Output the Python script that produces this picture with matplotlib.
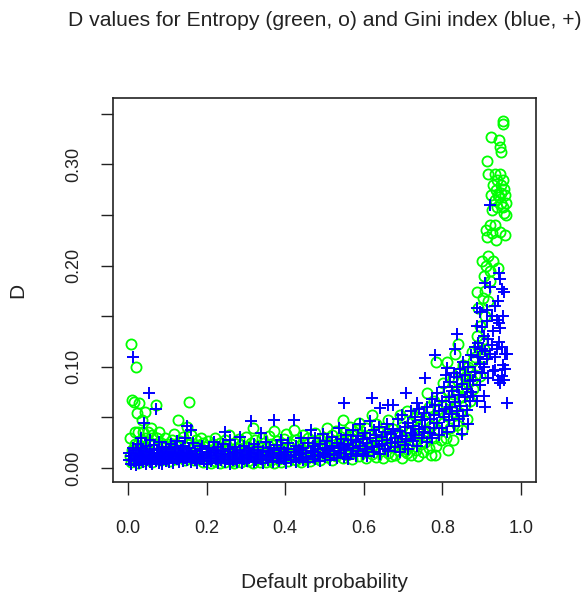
import matplotlib

matplotlib.use("Agg")

import matplotlib.pyplot as plt

plt.rcParams["font.family"] = ["Liberation Sans", "DejaVu Sans"]

# Entropy (green, o)
entropy_x = [
    0.005, 0.005, 0.008, 0.008, 0.011, 0.011, 0.014, 0.014, 0.018, 0.018,
    0.020, 0.020, 0.022, 0.022, 0.026, 0.026, 0.029, 0.029, 0.032, 0.032,
    0.036, 0.036, 0.039, 0.039, 0.043, 0.043, 0.046, 0.046, 0.050, 0.050,
    0.054, 0.054, 0.058, 0.058, 0.062, 0.062, 0.066, 0.066, 0.071, 0.071,
    0.075, 0.075, 0.080, 0.080, 0.085, 0.085, 0.090, 0.090, 0.095, 0.095,
    0.100, 0.100, 0.106, 0.106, 0.112, 0.112, 0.118, 0.118, 0.123, 0.123,
    0.127, 0.127, 0.133, 0.133, 0.139, 0.139, 0.144, 0.144, 0.150, 0.150,
    0.155, 0.155, 0.161, 0.161, 0.167, 0.167, 0.173, 0.173, 0.179, 0.179,
    0.185, 0.185, 0.191, 0.191, 0.197, 0.197, 0.204, 0.204, 0.210, 0.210,
    0.216, 0.216, 0.222, 0.222, 0.228, 0.228, 0.234, 0.234, 0.240, 0.240,
    0.246, 0.246, 0.252, 0.252, 0.258, 0.258, 0.264, 0.264, 0.270, 0.270,
    0.276, 0.276, 0.282, 0.282, 0.288, 0.288, 0.294, 0.294, 0.300, 0.300,
    0.306, 0.306, 0.312, 0.312, 0.317, 0.317, 0.323, 0.323, 0.329, 0.329,
    0.335, 0.335, 0.340, 0.340, 0.346, 0.346, 0.352, 0.352, 0.358, 0.358,
    0.364, 0.364, 0.370, 0.370, 0.372, 0.372, 0.378, 0.378, 0.384, 0.384,
    0.390, 0.390, 0.396, 0.396, 0.402, 0.402, 0.408, 0.408, 0.414, 0.414,
    0.422, 0.422, 0.428, 0.428, 0.434, 0.434, 0.440, 0.440, 0.446, 0.446,
    0.452, 0.452, 0.458, 0.458, 0.464, 0.464, 0.470, 0.470, 0.476, 0.476,
    0.482, 0.482, 0.488, 0.488, 0.494, 0.494, 0.500, 0.500, 0.506, 0.506,
    0.512, 0.512, 0.518, 0.518, 0.524, 0.524, 0.530, 0.530, 0.536, 0.536,
    0.542, 0.542, 0.546, 0.546, 0.552, 0.552, 0.558, 0.558, 0.564, 0.564,
    0.570, 0.570, 0.576, 0.576, 0.582, 0.582, 0.588, 0.588, 0.594, 0.594,
    0.600, 0.600, 0.606, 0.606, 0.612, 0.612, 0.620, 0.620, 0.626, 0.626,
    0.632, 0.632, 0.638, 0.638, 0.644, 0.644, 0.650, 0.650, 0.656, 0.656,
    0.662, 0.662, 0.668, 0.668, 0.674, 0.674, 0.680, 0.680, 0.686, 0.686,
    0.692, 0.692, 0.698, 0.698, 0.704, 0.704, 0.709, 0.709, 0.715, 0.715,
    0.721, 0.721, 0.727, 0.727, 0.733, 0.733, 0.739, 0.739, 0.745, 0.745,
    0.751, 0.751, 0.757, 0.757, 0.760, 0.760, 0.766, 0.766, 0.772, 0.772,
    0.778, 0.778, 0.781, 0.781, 0.784, 0.784, 0.790, 0.790, 0.796, 0.796,
    0.802, 0.802, 0.808, 0.808, 0.811, 0.811, 0.815, 0.815, 0.820, 0.820,
    0.826, 0.826, 0.828, 0.828, 0.832, 0.832, 0.836, 0.836, 0.841, 0.841,
    0.845, 0.845, 0.849, 0.849, 0.853, 0.853, 0.858, 0.858, 0.862, 0.862,
    0.866, 0.866, 0.870, 0.870, 0.875, 0.875, 0.879, 0.879, 0.883, 0.883,
    0.887, 0.887, 0.891, 0.891, 0.895, 0.895, 0.900, 0.900, 0.903, 0.903,
    0.905, 0.905, 0.908, 0.908, 0.911, 0.911, 0.913, 0.913, 0.917, 0.917,
    0.917, 0.921, 0.921, 0.921, 0.923, 0.923, 0.926, 0.926, 0.929, 0.929,
    0.933, 0.933, 0.933, 0.936, 0.936, 0.939, 0.939, 0.942, 0.942, 0.944,
    0.944, 0.946, 0.946, 0.946, 0.948, 0.948, 0.950, 0.950, 0.953, 0.953,
    0.955, 0.955, 0.957, 0.957, 0.960, 0.960, 0.962, 0.962,
]
entropy_y = [
    0.012, 0.030, 0.123, 0.006, 0.067, 0.018, 0.065, 0.010, 0.024, 0.036,
    0.100, 0.008, 0.054, 0.015, 0.036, 0.005, 0.064, 0.020, 0.011, 0.028,
    0.047, 0.016, 0.036, 0.007, 0.022, 0.055, 0.013, 0.030, 0.036, 0.009,
    0.019, 0.026, 0.040, 0.011, 0.033, 0.006, 0.024, 0.015, 0.062, 0.010,
    0.020, 0.030, 0.012, 0.036, 0.025, 0.008, 0.017, 0.022, 0.030, 0.011,
    0.014, 0.024, 0.020, 0.007, 0.028, 0.012, 0.016, 0.034, 0.022, 0.009,
    0.047, 0.018, 0.027, 0.012, 0.015, 0.031, 0.021, 0.008, 0.041, 0.017,
    0.065, 0.025, 0.013, 0.033, 0.020, 0.008, 0.028, 0.014, 0.011, 0.023,
    0.018, 0.030, 0.006, 0.025, 0.015, 0.021, 0.009, 0.027, 0.017, 0.005,
    0.024, 0.012, 0.007, 0.030, 0.019, 0.013, 0.005, 0.025, 0.016, 0.010,
    0.028, 0.006, 0.012, 0.022, 0.018, 0.033, 0.007, 0.014, 0.025, 0.005,
    0.011, 0.020, 0.016, 0.029, 0.006, 0.023, 0.013, 0.009, 0.021, 0.031,
    0.007, 0.016, 0.025, 0.012, 0.040, 0.005, 0.019, 0.028, 0.009, 0.014,
    0.022, 0.006, 0.030, 0.017, 0.011, 0.025, 0.006, 0.020, 0.015, 0.032,
    0.024, 0.008, 0.012, 0.019, 0.037, 0.005, 0.027, 0.013, 0.009, 0.022,
    0.017, 0.006, 0.029, 0.012, 0.020, 0.034, 0.007, 0.015, 0.024, 0.011,
    0.038, 0.018, 0.008, 0.028, 0.014, 0.022, 0.006, 0.019, 0.026, 0.033,
    0.012, 0.009, 0.021, 0.030, 0.016, 0.007, 0.027, 0.013, 0.010, 0.035,
    0.022, 0.017, 0.008, 0.029, 0.019, 0.013, 0.030, 0.024, 0.011, 0.040,
    0.021, 0.016, 0.033, 0.008, 0.018, 0.027, 0.012, 0.037, 0.025, 0.020,
    0.015, 0.031, 0.047, 0.010, 0.022, 0.036, 0.028, 0.013, 0.018, 0.041,
    0.033, 0.009, 0.024, 0.016, 0.038, 0.029, 0.012, 0.045, 0.020, 0.033,
    0.027, 0.016, 0.040, 0.010, 0.022, 0.033, 0.052, 0.014, 0.030, 0.020,
    0.011, 0.044, 0.025, 0.036, 0.017, 0.029, 0.040, 0.010, 0.023, 0.034,
    0.015, 0.047, 0.030, 0.012, 0.021, 0.039, 0.013, 0.027, 0.035, 0.018,
    0.052, 0.024, 0.010, 0.041, 0.029, 0.017, 0.056, 0.015, 0.036, 0.022,
    0.013, 0.045, 0.027, 0.033, 0.018, 0.050, 0.040, 0.012, 0.024, 0.055,
    0.032, 0.016, 0.046, 0.026, 0.074, 0.037, 0.020, 0.060, 0.042, 0.013,
    0.030, 0.066, 0.013, 0.050, 0.105, 0.022, 0.058, 0.038, 0.070, 0.028,
    0.045, 0.084, 0.062, 0.030, 0.105, 0.051, 0.018, 0.076, 0.040, 0.067,
    0.090, 0.055, 0.028, 0.073, 0.113, 0.060, 0.077, 0.043, 0.123, 0.086,
    0.054, 0.095, 0.038, 0.070, 0.102, 0.080, 0.062, 0.090, 0.048, 0.075,
    0.084, 0.100, 0.066, 0.095, 0.115, 0.087, 0.078, 0.106, 0.110, 0.092,
    0.174, 0.130, 0.158, 0.120, 0.091, 0.140, 0.126, 0.205, 0.168, 0.110,
    0.118, 0.190, 0.175, 0.150, 0.235, 0.200, 0.303, 0.228, 0.291, 0.210,
    0.165, 0.240, 0.185, 0.195, 0.327, 0.270, 0.232, 0.255, 0.280, 0.205,
    0.291, 0.265, 0.240, 0.275, 0.225, 0.258, 0.285, 0.270, 0.198, 0.324,
    0.268, 0.317, 0.291, 0.233, 0.262, 0.280, 0.312, 0.272, 0.343, 0.258,
    0.340, 0.285, 0.252, 0.276, 0.270, 0.230, 0.262, 0.250,
]

# Gini index (blue, +)
gini_x = [
    0.003, 0.003, 0.008, 0.008, 0.012, 0.012, 0.016, 0.016, 0.020, 0.020,
    0.020, 0.025, 0.025, 0.029, 0.029, 0.033, 0.033, 0.033, 0.037, 0.037,
    0.041, 0.041, 0.045, 0.045, 0.045, 0.049, 0.049, 0.053, 0.053, 0.057,
    0.057, 0.057, 0.061, 0.061, 0.065, 0.065, 0.065, 0.070, 0.070, 0.074,
    0.074, 0.078, 0.078, 0.078, 0.083, 0.083, 0.087, 0.087, 0.091, 0.091,
    0.096, 0.096, 0.096, 0.100, 0.100, 0.105, 0.105, 0.110, 0.110, 0.115,
    0.115, 0.115, 0.120, 0.120, 0.125, 0.125, 0.130, 0.130, 0.135, 0.135,
    0.140, 0.140, 0.140, 0.145, 0.145, 0.150, 0.150, 0.150, 0.155, 0.155,
    0.160, 0.160, 0.160, 0.165, 0.165, 0.170, 0.170, 0.176, 0.176, 0.182,
    0.182, 0.188, 0.188, 0.194, 0.194, 0.200, 0.200, 0.206, 0.206, 0.212,
    0.212, 0.218, 0.218, 0.224, 0.224, 0.230, 0.230, 0.230, 0.236, 0.236,
    0.242, 0.242, 0.248, 0.248, 0.248, 0.254, 0.254, 0.260, 0.260, 0.260,
    0.266, 0.266, 0.272, 0.272, 0.278, 0.278, 0.284, 0.284, 0.284, 0.290,
    0.290, 0.296, 0.296, 0.302, 0.302, 0.302, 0.308, 0.308, 0.314, 0.314,
    0.320, 0.320, 0.320, 0.326, 0.326, 0.332, 0.332, 0.338, 0.338, 0.338,
    0.344, 0.344, 0.350, 0.350, 0.356, 0.356, 0.362, 0.362, 0.368, 0.368,
    0.372, 0.372, 0.378, 0.378, 0.384, 0.384, 0.390, 0.390, 0.390, 0.396,
    0.396, 0.402, 0.402, 0.408, 0.408, 0.414, 0.414, 0.422, 0.422, 0.428,
    0.428, 0.428, 0.434, 0.434, 0.440, 0.440, 0.446, 0.446, 0.452, 0.452,
    0.458, 0.458, 0.465, 0.465, 0.471, 0.471, 0.477, 0.477, 0.477, 0.483,
    0.483, 0.489, 0.489, 0.495, 0.495, 0.501, 0.501, 0.507, 0.507, 0.513,
    0.513, 0.519, 0.519, 0.525, 0.525, 0.531, 0.531, 0.537, 0.537, 0.543,
    0.543, 0.549, 0.549, 0.549, 0.555, 0.555, 0.561, 0.561, 0.567, 0.567,
    0.573, 0.573, 0.579, 0.579, 0.585, 0.585, 0.591, 0.591, 0.597, 0.597,
    0.603, 0.603, 0.609, 0.609, 0.615, 0.615, 0.620, 0.620, 0.626, 0.626,
    0.632, 0.632, 0.638, 0.638, 0.641, 0.641, 0.647, 0.647, 0.653, 0.653,
    0.659, 0.659, 0.662, 0.662, 0.668, 0.668, 0.674, 0.674, 0.680, 0.680,
    0.686, 0.686, 0.692, 0.692, 0.698, 0.698, 0.704, 0.704, 0.707, 0.707,
    0.713, 0.713, 0.719, 0.719, 0.725, 0.725, 0.731, 0.731, 0.735, 0.735,
    0.741, 0.741, 0.747, 0.747, 0.752, 0.752, 0.756, 0.756, 0.762, 0.762,
    0.768, 0.768, 0.774, 0.774, 0.778, 0.778, 0.781, 0.781, 0.787, 0.787,
    0.792, 0.792, 0.798, 0.798, 0.804, 0.804, 0.808, 0.808, 0.811, 0.811,
    0.816, 0.816, 0.820, 0.820, 0.825, 0.825, 0.829, 0.829, 0.832, 0.832,
    0.836, 0.836, 0.838, 0.838, 0.842, 0.842, 0.846, 0.846, 0.850, 0.850,
    0.853, 0.853, 0.857, 0.857, 0.862, 0.862, 0.866, 0.866, 0.870, 0.870,
    0.874, 0.874, 0.879, 0.879, 0.883, 0.883, 0.887, 0.887, 0.887, 0.891,
    0.891, 0.895, 0.895, 0.895, 0.900, 0.900, 0.900, 0.905, 0.905, 0.905,
    0.908, 0.908, 0.908, 0.913, 0.913, 0.913, 0.917, 0.917, 0.921, 0.921,
    0.921, 0.925, 0.925, 0.929, 0.929, 0.934, 0.934, 0.934, 0.938, 0.938,
    0.941, 0.941, 0.945, 0.945, 0.945, 0.947, 0.947, 0.947, 0.951, 0.951,
    0.951, 0.955, 0.955, 0.957, 0.957, 0.960, 0.960, 0.964, 0.964,
]
gini_y = [
    0.008, 0.015, 0.004, 0.012, 0.110, 0.020, 0.007, 0.013, 0.003, 0.018,
    0.010, 0.009, 0.024, 0.005, 0.014, 0.011, 0.020, 0.030, 0.006, 0.016,
    0.045, 0.009, 0.013, 0.004, 0.022, 0.017, 0.008, 0.074, 0.011, 0.006,
    0.019, 0.028, 0.012, 0.004, 0.015, 0.009, 0.023, 0.058, 0.007, 0.012,
    0.018, 0.005, 0.010, 0.026, 0.014, 0.008, 0.019, 0.004, 0.011, 0.016,
    0.007, 0.021, 0.013, 0.010, 0.015, 0.006, 0.019, 0.012, 0.024, 0.008,
    0.016, 0.005, 0.013, 0.020, 0.009, 0.027, 0.015, 0.006, 0.011, 0.018,
    0.007, 0.022, 0.014, 0.030, 0.010, 0.042, 0.016, 0.008, 0.012, 0.020,
    0.038, 0.006, 0.014, 0.010, 0.025, 0.017, 0.008, 0.012, 0.005, 0.019,
    0.009, 0.014, 0.022, 0.007, 0.011, 0.016, 0.004, 0.010, 0.020, 0.013,
    0.007, 0.018, 0.026, 0.009, 0.015, 0.005, 0.012, 0.021, 0.017, 0.008,
    0.011, 0.024, 0.036, 0.014, 0.006, 0.009, 0.019, 0.013, 0.004, 0.028,
    0.016, 0.008, 0.011, 0.021, 0.006, 0.015, 0.031, 0.010, 0.018, 0.013,
    0.005, 0.009, 0.022, 0.016, 0.007, 0.012, 0.020, 0.010, 0.046, 0.014,
    0.006, 0.018, 0.024, 0.011, 0.008, 0.015, 0.021, 0.035, 0.009, 0.013,
    0.005, 0.017, 0.012, 0.026, 0.008, 0.016, 0.020, 0.011, 0.014, 0.006,
    0.047, 0.018, 0.010, 0.023, 0.015, 0.007, 0.012, 0.020, 0.028, 0.009,
    0.016, 0.005, 0.013, 0.019, 0.025, 0.011, 0.008, 0.047, 0.016, 0.013,
    0.022, 0.006, 0.018, 0.010, 0.030, 0.014, 0.008, 0.020, 0.015, 0.011,
    0.025, 0.006, 0.038, 0.017, 0.012, 0.022, 0.009, 0.016, 0.030, 0.019,
    0.013, 0.007, 0.024, 0.015, 0.034, 0.011, 0.020, 0.018, 0.027, 0.008,
    0.014, 0.022, 0.031, 0.013, 0.017, 0.010, 0.025, 0.020, 0.040, 0.015,
    0.029, 0.064, 0.011, 0.022, 0.018, 0.033, 0.024, 0.009, 0.014, 0.028,
    0.020, 0.038, 0.026, 0.012, 0.017, 0.032, 0.022, 0.044, 0.029, 0.014,
    0.019, 0.035, 0.025, 0.012, 0.030, 0.046, 0.069, 0.021, 0.016, 0.038,
    0.027, 0.033, 0.022, 0.041, 0.059, 0.014, 0.031, 0.024, 0.019, 0.036,
    0.044, 0.028, 0.062, 0.017, 0.034, 0.025, 0.062, 0.039, 0.021, 0.030,
    0.048, 0.026, 0.016, 0.037, 0.032, 0.052, 0.023, 0.041, 0.074, 0.029,
    0.045, 0.019, 0.035, 0.056, 0.027, 0.042, 0.050, 0.033, 0.064, 0.022,
    0.039, 0.058, 0.030, 0.047, 0.054, 0.036, 0.089, 0.041, 0.026, 0.060,
    0.048, 0.035, 0.068, 0.030, 0.052, 0.040, 0.112, 0.062, 0.045, 0.074,
    0.033, 0.056, 0.066, 0.040, 0.080, 0.050, 0.058, 0.092, 0.099, 0.036,
    0.070, 0.047, 0.085, 0.060, 0.053, 0.076, 0.094, 0.042, 0.118, 0.065,
    0.080, 0.056, 0.132, 0.090, 0.072, 0.048, 0.098, 0.061, 0.034, 0.083,
    0.051, 0.105, 0.070, 0.092, 0.057, 0.078, 0.044, 0.100, 0.086, 0.066,
    0.112, 0.075, 0.087, 0.071, 0.095, 0.120, 0.158, 0.140, 0.066, 0.110,
    0.124, 0.154, 0.103, 0.082, 0.139, 0.094, 0.118, 0.071, 0.100, 0.130,
    0.116, 0.183, 0.060, 0.156, 0.108, 0.145, 0.128, 0.089, 0.113, 0.179,
    0.260, 0.150, 0.122, 0.096, 0.135, 0.160, 0.097, 0.110, 0.118, 0.146,
    0.087, 0.165, 0.193, 0.143, 0.125, 0.187, 0.138, 0.084, 0.177, 0.120,
    0.091, 0.102, 0.150, 0.174, 0.087, 0.113, 0.098, 0.113, 0.064,
]

fig = plt.figure(figsize=(5.84, 5.97), dpi=100)
ax = fig.add_axes([0.193, 0.1926, 0.7248, 0.6432])

ax.plot(entropy_x, entropy_y, linestyle="none", marker="o", markersize=7.3,
        markerfacecolor="none", markeredgecolor="#00ff00", markeredgewidth=1.3)
ax.plot(gini_x, gini_y, linestyle="none", marker="+", markersize=9,
        color="#0000ff", markeredgewidth=1.4)

ax.set_xlim(-0.0389, 1.0382)
ax.set_ylim(-0.0138, 0.3656)

xt = [0.0, 0.2, 0.4, 0.6, 0.8, 1.0]
ax.set_xticks(xt)
ax.set_xticklabels([f"{v:.1f}" for v in xt])
yt = [0.00, 0.05, 0.10, 0.15, 0.20, 0.25, 0.30, 0.35]
ax.set_yticks(yt)
ax.set_yticklabels(["0.00", "", "0.10", "", "0.20", "", "0.30", ""],
                   rotation=90, va="center")

ax.tick_params(axis="both", direction="out", length=9, width=1.0,
               color="#222222", labelsize=13, labelcolor="#222222")
ax.tick_params(axis="x", pad=18)
ax.tick_params(axis="y", pad=13)
for s in ax.spines.values():
    s.set_linewidth(1.2)
    s.set_color("#222222")

fig.text(0.5555, 1 - 21 / 597,
         "D values for Entropy (green, o) and Gini index (blue, +)",
         ha="center", va="center", fontsize=15.2, color="#222222")
fig.text(0.5555, 1 - 582 / 597, "Default probability",
         ha="center", va="center", fontsize=15, color="#222222")
fig.text(18 / 584, 1 - 290 / 597, "D", rotation=90,
         ha="center", va="center", fontsize=15, color="#222222")

fig.savefig("out.png", dpi=100)
